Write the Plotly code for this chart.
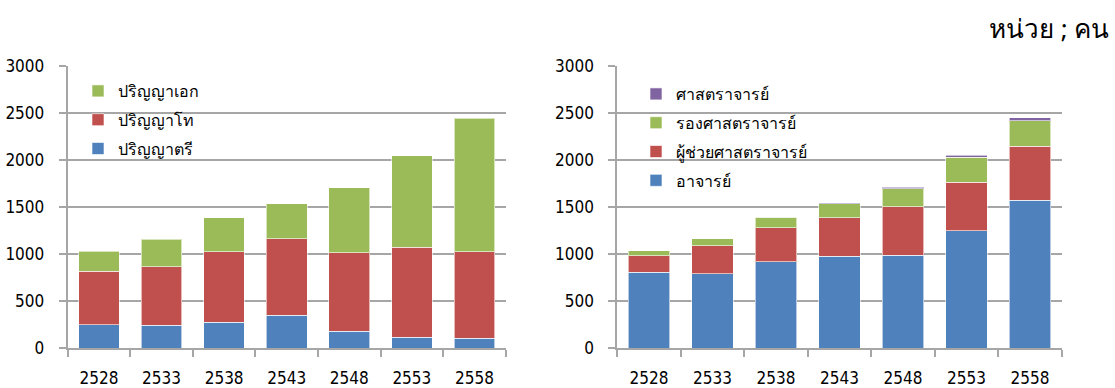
import plotly.graph_objects as go

years = ["2528", "2533", "2538", "2543", "2548", "2553", "2558"]

# Left chart: by degree
bachelor = [245, 241, 273, 351, 177, 117, 103]
master = [574, 621, 752, 809, 837, 954, 922]
doctor = [209, 294, 362, 375, 692, 975, 1418]

# Right chart: by academic rank
lecturer = [805, 791, 915, 975, 989, 1245, 1571]
asst_prof = [177, 298, 365, 412, 514, 517, 574]
assoc_prof = [50, 71, 110, 148, 192, 266, 273]
professor = [0, 0, 0, 3, 14, 22, 29]

BLUE, RED, GREEN, PURPLE = "#4F81BD", "#C0504D", "#9BBB59", "#8064A2"
FONT = "DejaVu Sans Condensed, Tahoma, sans-serif"
GRID = "#A6A6A6"

fig = go.Figure()
line = dict(color="rgba(255,255,255,0.6)", width=1)

left_series = [("ปริญญาตรี", bachelor, BLUE), ("ปริญญาโท", master, RED), ("ปริญญาเอก", doctor, GREEN)]
right_series = [("อาจารย์", lecturer, BLUE), ("ผู้ช่วยศาสตราจารย์", asst_prof, RED),
                ("รองศาสตราจารย์", assoc_prof, GREEN), ("ศาสตราจารย์", professor, PURPLE)]

for i, (name, vals, col) in enumerate(left_series):
    fig.add_trace(go.Bar(x=years, y=vals, name=name, marker=dict(color=col, line=line),
                         xaxis="x", yaxis="y", legend="legend", legendgroup=name,
                         legendrank=1000 - i))
for i, (name, vals, col) in enumerate(right_series):
    fig.add_trace(go.Bar(x=years, y=vals, name=name, marker=dict(color=col, line=line),
                         xaxis="x2", yaxis="y2", legend="legend2", legendgroup=name,
                         legendrank=1000 - i))

ydom = [1 - 348 / 388, 1 - 66 / 388]
xax = dict(type="category", showline=True, linecolor=GRID, linewidth=2, ticks="outside",
           tickson="boundaries", ticklen=7, tickcolor=GRID, tickwidth=2, showgrid=False,
           automargin=False,
           tickfont=dict(family=FONT, size=17, color="black"), ticklabelstandoff=14)
yax = dict(range=[0, 3000], dtick=500, showgrid=True, gridcolor=GRID, gridwidth=2,
           showline=True, linecolor=GRID, linewidth=2, ticks="outside", ticklen=7,
           tickcolor=GRID, tickwidth=2, zeroline=False, automargin=False,
           tickfont=dict(family=FONT, size=17, color="black"), ticklabelstandoff=11)

leg = dict(traceorder="grouped", bgcolor="rgba(0,0,0,0)",
           font=dict(family=FONT, size=16, color="black"),
           itemwidth=30, tracegroupgap=5, yanchor="top", xanchor="left")

fig.update_layout(
    width=1115, height=388, margin=dict(l=0, r=0, t=0, b=0, autoexpand=False),
    paper_bgcolor="white", plot_bgcolor="white", barmode="stack", bargap=0.35,
    xaxis=dict(domain=[67.7 / 1115, 505.7 / 1115], anchor="y", **xax),
    yaxis=dict(domain=ydom, anchor="x", **yax),
    xaxis2=dict(domain=[617.3 / 1115, 1061.7 / 1115], anchor="y2", **xax),
    yaxis2=dict(domain=ydom, anchor="x2", **yax),
    legend=dict(x=78 / 1115, y=1 - 74 / 388, **leg),
    legend2=dict(x=636 / 1115, y=1 - 77 / 388, **leg),
    annotations=[dict(text="หน่วย ; คน", x=1112 / 1115, y=1 - 28 / 388, xref="paper", yref="paper",
                      xanchor="right", yanchor="middle", showarrow=False,
                      font=dict(family="Noto Sans, sans-serif", size=26, color="black"))],
    showlegend=True,
)

fig.write_html("out.html")
